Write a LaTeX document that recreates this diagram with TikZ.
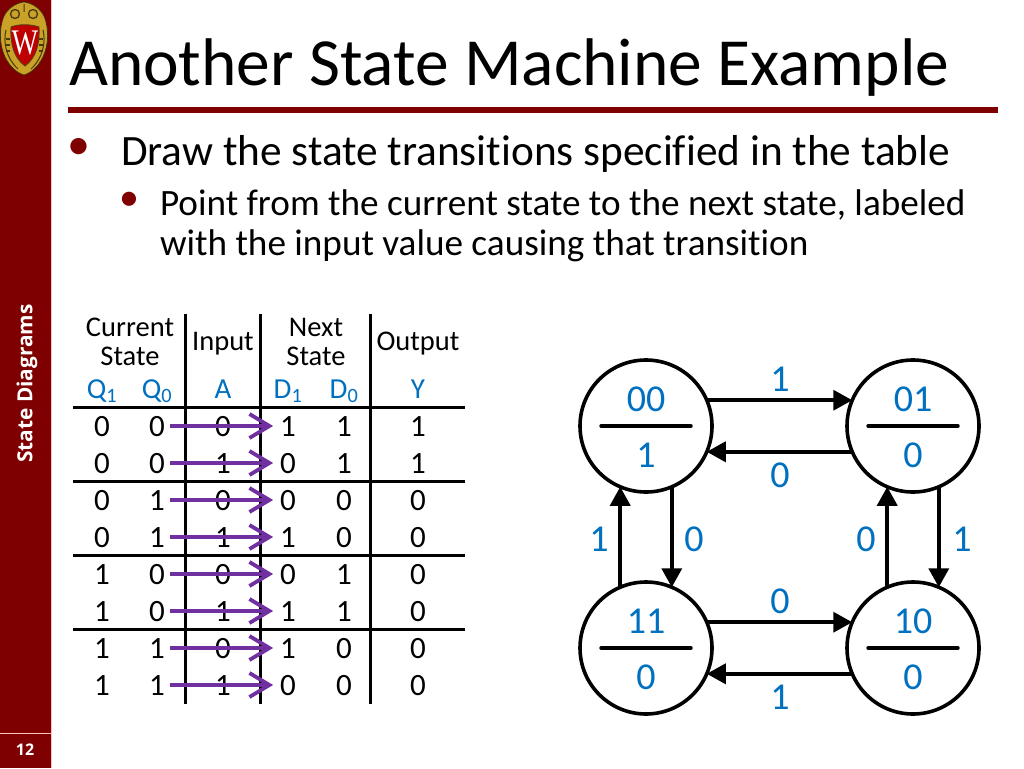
\documentclass[tikz,border=0pt]{standalone}
\usepackage{fontspec}
\setmainfont[Ligatures=NoCommon]{Carlito}
\newfontfamily\sidefont{Open Sans}
\newfontfamily\crestfont{Liberation Serif}
\usetikzlibrary{arrows.meta,shapes.geometric}
\definecolor{uwred}{HTML}{7F0000}
\definecolor{blu}{HTML}{0070C0}
\definecolor{purp}{HTML}{7030A0}
\definecolor{gold}{HTML}{C9A227}
\tikzset{
  x=1pt,y=-1pt,
  txt/.style={inner sep=0pt,outer sep=0pt,font=\fontsize{#1}{#1}\selectfont,text=black},
  cell/.style={inner sep=0pt,outer sep=0pt,font=\fontsize{31}{31}\selectfont,text=black},
  hdr/.style={inner sep=0pt,outer sep=0pt,font=\fontsize{28.5}{29}\selectfont,text=black,align=center},
  sym/.style={inner sep=0pt,outer sep=0pt,anchor=base,font=\fontsize{29}{29}\selectfont,text=blu},
  lab/.style={inner sep=0pt,outer sep=0pt,font=\fontsize{38}{38}\selectfont,text=blu},
  state/.style={circle,draw=black,line width=3.6pt,minimum size=132pt,inner sep=0pt,outer sep=0pt},
  trans/.style={line width=3.6pt,-{Triangle[length=19pt,width=20pt]}},
  flow/.style={draw=purp,line width=3.6pt,-{Straight Barb[length=20pt,width=24pt,line width=3.8pt]},shorten <=5pt,shorten >=7pt},
  grid/.style={line width=3pt,black},
}
\begin{document}
\begin{tikzpicture}
\useasboundingbox (0,0) rectangle (1024,768);
\fill[white] (0,0) rectangle (1024,768);
% sidebar
\fill[uwred] (0,0) rectangle (51,768);
\draw[line width=1pt,color=red!25!white] (51.5,0) -- (51.5,768);
\draw[line width=1.5pt,color=red!25!white] (0,733.5) -- (51,733.5);
\node[rotate=90,inner sep=0pt,font=\sidefont\bfseries\fontsize{20.8}{21}\selectfont,text=white] (side) at (27,383.5) {State Diagrams};
\node[inner sep=0pt,font=\sidefont\bfseries\fontsize{16}{16}\selectfont,text=white] (pageno) at (25,750) {12};
% crest
\fill[gold,draw=black!70!gold,line width=.7pt] (24,2) .. controls (32,3) and (40,8) .. (44,16) .. controls (49,28) and (49,44) .. (43,57) .. controls (38,67) and (31,73) .. (24,75) .. controls (17,73) and (10,67) .. (5,57) .. controls (-1,44) and (-1,28) .. (4,16) .. controls (8,8) and (16,3) .. (24,2) -- cycle;
\foreach \cx/\cy in {15/14,33/14}{\draw[black!65!gold,line width=1.3pt] (\cx,\cy) circle (4.5);}
\draw[black!65!gold,line width=1pt] (24,4) -- (24,12) (6,30) .. controls (3,42) and (6,58) .. (18,69) (43,30) .. controls (46,42) and (43,58) .. (31,69);
\draw[black!65!gold,line width=1.2pt] (6,39) -- (10,39) (6,45) -- (10,45) (6,51) -- (10,51) (39,39) -- (43,39) (39,45) -- (43,45) (39,51) -- (43,51);
\fill[color=red!75!black,draw=black!60!gold,line width=.8pt] (11,27) .. controls (18,24) and (31,24) .. (39,27) .. controls (40,44) and (36,58) .. (25,66) .. controls (14,58) and (10,44) .. (11,27) -- cycle;
\node[inner sep=0pt,font=\crestfont\fontsize{36}{36}\selectfont,text=white,xscale=.78] (crestw) at (25,43) {W};
% title
\node[txt=67.4,anchor=base west] (title) at (69,85) {Another State Machine Example};
\fill[uwred] (68,107) rectangle (998,113);
% bullets
\node[txt=46,text=uwred,anchor=base] (b1) at (79,159.5) {•};
\node[txt=40,text=uwred,anchor=base] (b2) at (129,210.5) {•};
\node[txt=43.3,anchor=base west] (t1) at (121,165) {Draw the state transitions specified in the table};
\node[txt=37.2,anchor=base west] (t2) at (160,215) {Point from the current state to the next state, labeled};
\node[txt=37.2,anchor=base west] (t3) at (160,255) {with the input value causing that transition};
% table header
\node[hdr] (hcur) at (130,342) {Current\\State};
\node[hdr,anchor=base] (hinp) at (223,350) {Input};
\node[hdr] (hnext) at (316,342) {Next\\State};
\node[hdr,anchor=base] (hout) at (418,350) {Output};
\node[sym] (sq1) at (102,398) {Q\textsubscript{1}};
\node[sym] (sq0) at (157,398) {Q\textsubscript{0}};
\node[sym] (sa) at (223,398) {A};
\node[sym] (sd1) at (288,398) {D\textsubscript{1}};
\node[sym] (sd0) at (344,398) {D\textsubscript{0}};
\node[sym] (sy) at (418,398) {Y};
% table rows
\foreach \i/\y/\a/\b/\c/\d/\e/\f in {1/427/0/0/0/1/1/1,2/464/0/0/1/0/1/1,3/501/0/1/0/0/0/0,4/538/0/1/1/1/0/0,5/575/1/0/0/0/1/0,6/612/1/0/1/1/1/0,7/649/1/1/0/1/0/0,8/686/1/1/1/0/0/0}{
  \node[cell] (qa\i) at (102,\y) {\a};
  \node[cell] (qb\i) at (157,\y) {\b};
  \node[cell] (in\i) at (223,\y) {\c};
  \node[cell] (da\i) at (288,\y) {\d};
  \node[cell] (db\i) at (344,\y) {\e};
  \node[cell] (yy\i) at (418,\y) {\f};
}
% grid
\draw[grid] (73,407) -- (465,407) (73,481) -- (465,481) (73,555) -- (465,555) (73,629) -- (465,629);
\draw[grid] (185,314) -- (185,704) (260,314) -- (260,704) (370,314) -- (370,704);
% purple arrows
\foreach \i in {1,...,8}{
  \draw[flow] ([yshift=1pt]qb\i.east) -- ([yshift=1pt]da\i.west);
}
% states
\node[state] (n00) at (646,426) {};
\node[state] (n01) at (913,426) {};
\node[state] (n11) at (646,648) {};
\node[state] (n10) at (913,648) {};
\foreach \n/\top/\bot in {n00/00/1,n01/01/0,n11/11/0,n10/10/0}{
  \draw[line width=3.4pt,line cap=round] ([xshift=-45pt]\n.center) -- ([xshift=45pt]\n.center);
  \node[lab] (\n t) at ([yshift=26.5pt]\n.center) {\top};
  \node[lab] (\n b) at ([yshift=-29pt]\n.center) {\bot};
}
% transitions
\draw[trans] (n00.23) -- (n01.157);
\draw[trans] (n01.203) -- (n00.337);
\draw[trans] (n11.23) -- (n10.157);
\draw[trans] (n10.203) -- (n11.337);
\draw[trans] (n11.113) -- (n00.247);
\draw[trans] (n00.293) -- (n11.67);
\draw[trans] (n10.113) -- (n01.247);
\draw[trans] (n01.293) -- (n10.67);
% transition labels
\node[lab] (l1) at (780,379) {1};
\node[lab] (l2) at (780,475) {0};
\node[lab] (l3) at (780,601) {0};
\node[lab] (l4) at (780,697) {1};
\node[lab] (l5) at (599,539) {1};
\node[lab] (l6) at (694,539) {0};
\node[lab] (l7) at (866,539) {0};
\node[lab] (l8) at (962,539) {1};
\end{tikzpicture}
\end{document}
